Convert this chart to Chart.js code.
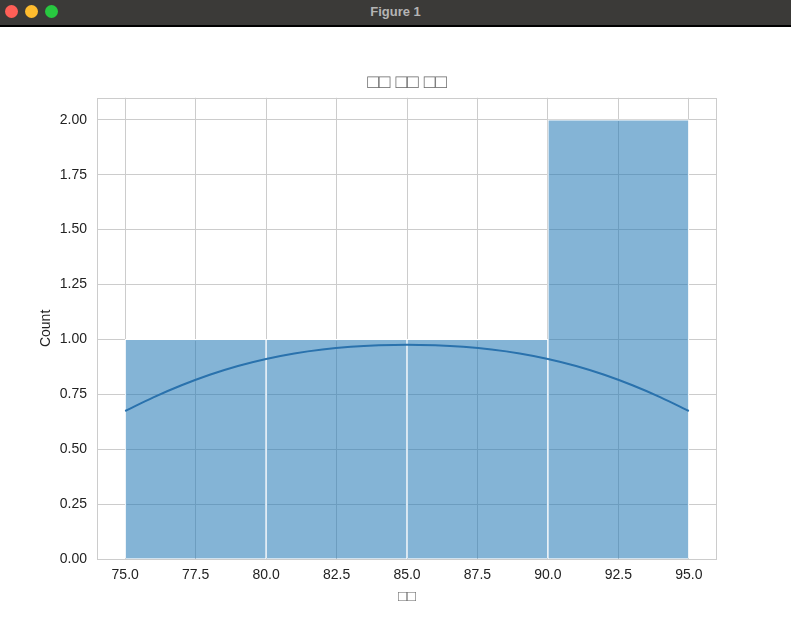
<!DOCTYPE html>
<html>
<head>
<meta charset="utf-8">
<script src="https://cdn.jsdelivr.net/npm/chart.js@4.4.1/dist/chart.umd.min.js"></script>
<style>
  html, body { margin: 0; padding: 0; background: #fff; width: 791px; height: 622px; overflow: hidden; }
  #bar { position: relative; height: 25px; background: #3b3a38; border-bottom: 2px solid #000; }
  .dot { position: absolute; top: 5px; width: 13px; height: 13px; border-radius: 50%; }
  #bar .t { position: absolute; left: 0; right: 0; top: 4px; text-align: center; color: #b4b4b4;
            font: bold 13px "Liberation Sans", Arial, sans-serif; }
  #wrap { width: 791px; height: 595px; }
</style>
</head>
<body>
<div id="bar">
  <div class="dot" style="left:5px;background:#fe5f57;"></div>
  <div class="dot" style="left:25px;background:#febc2e;"></div>
  <div class="dot" style="left:45px;background:#28c840;"></div>
  <div class="t">Figure 1</div>
</div>
<div id="wrap"><canvas id="c" width="791" height="595"></canvas></div>
<script>
// ---- data ----
const binCenters = [77.5, 82.5, 87.5, 92.5];
const counts = [1, 1, 1, 2];
const kdeX = [75, 76, 77, 78, 79, 80, 81, 82, 83, 84, 85, 86, 87, 88, 89, 90, 91, 92, 93, 94, 95];
const kdeY = [0.674, 0.736, 0.791, 0.839, 0.879, 0.911, 0.936, 0.954, 0.966, 0.973, 0.976,
              0.973, 0.966, 0.954, 0.936, 0.911, 0.879, 0.839, 0.791, 0.736, 0.674];
const xTicks = [75, 77.5, 80, 82.5, 85, 87.5, 90, 92.5, 95];
const yTicks = [0, 0.25, 0.5, 0.75, 1, 1.25, 1.5, 1.75, 2];
const titleText = '□□ □□ □□';
const xLabel = '□□';
const yLabel = 'Count';

const FONT = '"Liberation Sans", Arial, sans-serif';
const GRID = '#cccccc';

const frame = {
  id: 'frame',
  afterDatasetsDraw(chart) {
    const a = chart.chartArea, ctx = chart.ctx;
    ctx.save();
    ctx.strokeStyle = GRID;
    ctx.lineWidth = 1;
    ctx.strokeRect(Math.round(a.left) + 0.5, Math.round(a.top) + 0.5,
                   Math.round(a.right - a.left) - 1, Math.round(a.bottom - a.top));
    ctx.restore();
  }
};

new Chart(document.getElementById('c'), {
  type: 'bar',
  data: {
    datasets: [
      {
        type: 'line',
        data: kdeX.map((x, i) => ({ x: x, y: kdeY[i] })),
        borderColor: '#2a72ad',
        borderWidth: 2,
        pointRadius: 0,
        cubicInterpolationMode: 'monotone',
        fill: false
      },
      {
        type: 'bar',
        data: binCenters.map((x, i) => ({ x: x, y: counts[i] })),
        backgroundColor: 'rgba(31,119,180,0.55)',
        borderColor: '#ffffff',
        borderWidth: { left: 1, right: 1, top: 1, bottom: 0 },
        borderSkipped: false,
        barThickness: 'flex',
        categoryPercentage: 1,
        barPercentage: 1
      }
    ]
  },
  options: {
    responsive: false,
    animation: false,
    devicePixelRatio: 1,
    layout: { padding: { left: 0, right: 74, top: 0, bottom: 0 } },
    plugins: {
      legend: { display: false },
      tooltip: { enabled: false },
      title: {
        display: true,
        fullSize: false,
        text: titleText,
        color: '#666666',
        font: { family: FONT, size: 19, weight: 'normal', lineHeight: 1.2 },
        padding: { top: 44, bottom: 4 }
      }
    },
    scales: {
      x: {
        type: 'linear',
        offset: false,
        min: 74, max: 96,
        afterBuildTicks: s => { s.ticks = xTicks.map(v => ({ value: v })); },
        afterFit: s => { s.height = 63; },
        grid: { color: GRID, drawTicks: false, lineWidth: 1, offset: false },
        border: { display: false },
        ticks: {
          padding: 8,
          color: '#222222',
          font: { family: FONT, size: 14 },
          callback: v => Number(v).toFixed(1),
          maxRotation: 0, autoSkip: false
        },
        title: {
          display: true, text: xLabel, color: '#666666',
          font: { family: FONT, size: 15, lineHeight: 1.2 },
          padding: { top: 0, bottom: 16 }
        }
      },
      y: {
        type: 'linear',
        min: 0, max: 2.1,
        afterBuildTicks: s => { s.ticks = yTicks.map(v => ({ value: v })); },
        afterFit: s => { s.width = 97; },
        grid: { color: GRID, drawTicks: false, lineWidth: 1 },
        border: { display: false },
        ticks: {
          padding: 10,
          color: '#222222',
          font: { family: FONT, size: 14 },
          callback: v => Number(v).toFixed(2),
          autoSkip: false
        },
        title: {
          display: true, text: yLabel, color: '#222222',
          font: { family: FONT, size: 14, lineHeight: 1.2 },
          padding: { top: 38, bottom: 0 }
        }
      }
    }
  },
  plugins: [frame]
});
</script>
</body>
</html>
